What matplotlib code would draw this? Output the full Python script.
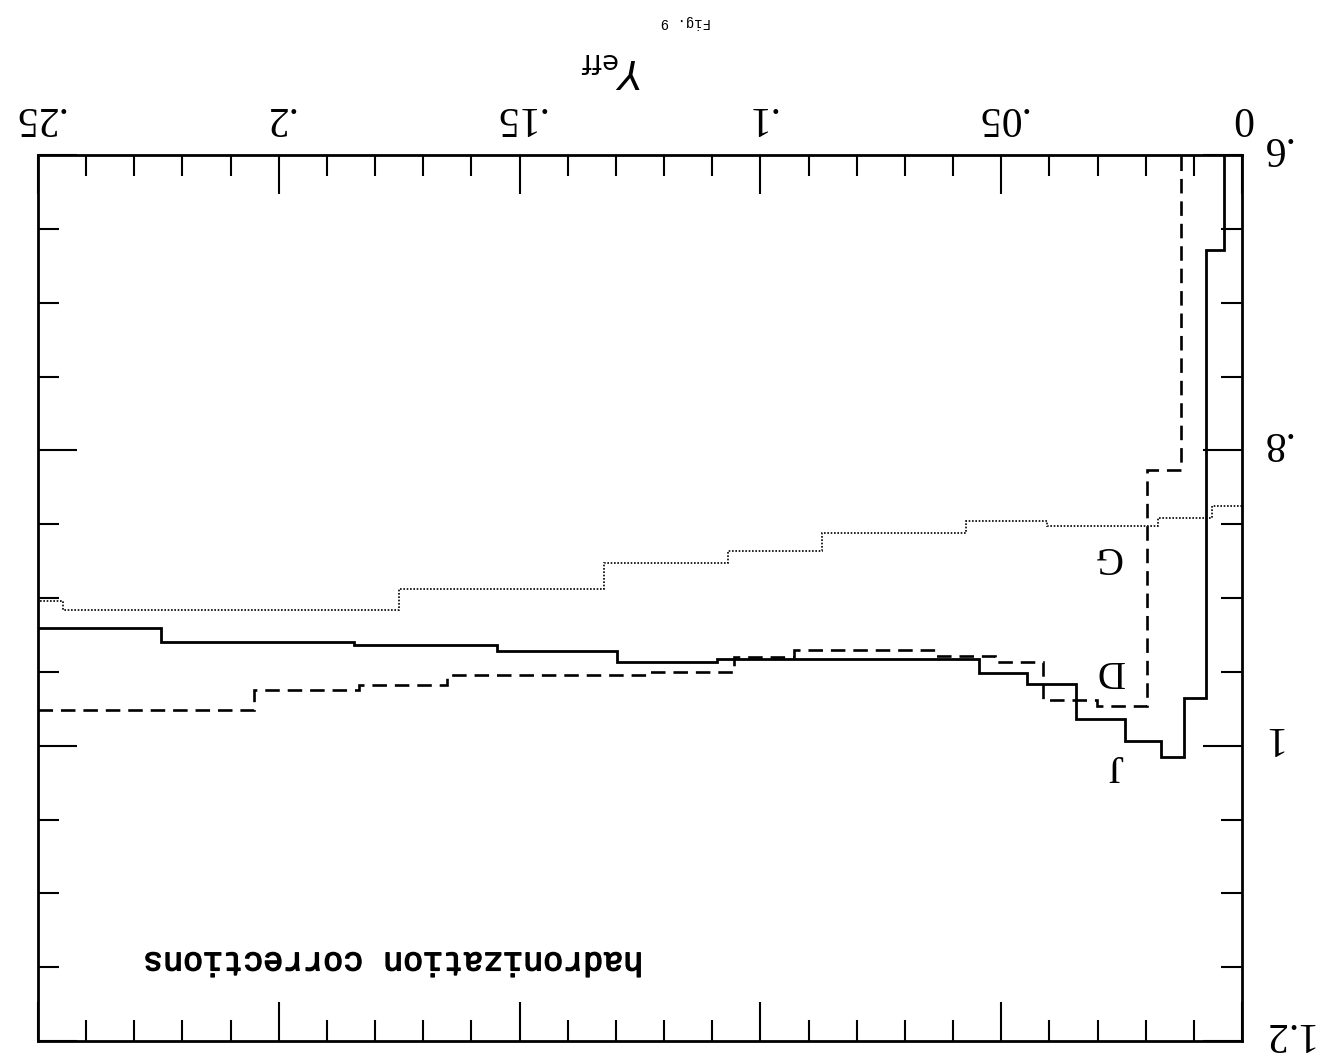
import matplotlib
matplotlib.use("Agg")
import matplotlib.pyplot as plt
import matplotlib.patheffects as pe
from matplotlib.transforms import ScaledTranslation
from matplotlib.ticker import MultipleLocator, FixedLocator, FuncFormatter

# bin edges (y_cut) and hadronization corrections for each algorithm
j_edges = [0, 0.0037, 0.0075, 0.012, 0.0168, 0.0243, 0.0344, 0.0446, 0.0546,
           0.109, 0.1297, 0.1546, 0.1843, 0.2245, 0.25]
j_vals = [0.45, 0.664, 0.968, 1.008, 0.997, 0.982, 0.958, 0.951, 0.941,
          0.943, 0.936, 0.932, 0.930, 0.920]

d_edges = [0, 0.0127, 0.0197, 0.0301, 0.0413, 0.0512, 0.0635, 0.093, 0.1055,
           0.1232, 0.165, 0.1834, 0.2052, 0.25]
d_vals = [0.45, 0.813, 0.973, 0.969, 0.943, 0.939, 0.935, 0.940, 0.950,
          0.952, 0.959, 0.962, 0.976]

g_edges = [0, 0.0062, 0.0174, 0.0405, 0.0573, 0.0873, 0.1068, 0.1324, 0.1751,
           0.2448, 0.25]
g_vals = [0.838, 0.846, 0.851, 0.848, 0.856, 0.868, 0.876, 0.894, 0.908, 0.902]

curve_labels = ["J", "D", "G"]
label_pos = [(0.0263, 1.013), (0.0274, 0.949), (0.028, 0.872)]

serif = "Liberation Serif"

fig = plt.figure(figsize=(13.29, 10.59), dpi=100)
ax = fig.add_axes([0.0286, 0.0170, 0.906, 0.8366])

ax.stairs(j_vals, j_edges, baseline=None, color="black", lw=2.0)
ax.stairs(d_vals, d_edges, baseline=None, color="black", lw=1.9,
          linestyle=(0, (5.5, 3)))
ax.stairs(g_vals, g_edges, baseline=None, color="black", lw=1.2,
          linestyle=(0, (1, 1)))

# the whole page is printed upside down
ax.set_xlim(0.25, 0)
ax.set_ylim(1.2, 0.6)

def short_num(v, pos):
    s = f"{v:.2f}".rstrip("0").rstrip(".")
    if s.startswith("0."):
        s = s[1:]
    return s

ax.xaxis.set_major_locator(MultipleLocator(0.05))
ax.xaxis.set_minor_locator(MultipleLocator(0.01))
ax.yaxis.set_major_locator(FixedLocator([0.6, 0.8, 1.0, 1.2]))
ax.yaxis.set_minor_locator(MultipleLocator(0.05))
ax.xaxis.set_major_formatter(FuncFormatter(short_num))
ax.yaxis.set_major_formatter(FuncFormatter(short_num))

ax.tick_params(which="both", direction="in", top=True, bottom=True,
               left=True, right=True, labeltop=True, labelbottom=False,
               labelright=True, labelleft=False, width=1.5, color="black")
ax.tick_params(which="major", length=28, pad=13, labelsize=30,
               labelrotation=180)
ax.tick_params(which="minor", length=15)
for lab in ax.get_xticklabels() + ax.get_yticklabels():
    lab.set_fontfamily(serif)
# upside-down digits sit low, nudge them up onto their ticks
lift = ScaledTranslation(0, 0.08, fig.dpi_scale_trans)
for lab in ax.get_yticklabels():
    lab.set_verticalalignment("center")
    lab.set_transform(lab.get_transform() + lift)

for sp in ax.spines.values():
    sp.set_linewidth(2.0)

ax.xaxis.set_label_position("top")
ax.set_xlabel(r"$Y_{\rm eff}$", fontsize=28, rotation=180, family=serif)
ax.xaxis.set_label_coords(0.477, 1.085)

for name, (x, y) in zip(curve_labels, label_pos):
    ax.text(x, y, name, rotation=180, ha="center", va="center",
            fontsize=28, family=serif)

ax.text(0.295, 0.09, "hadronization corrections", transform=ax.transAxes,
        rotation=180, ha="center", va="center", fontsize=24,
        family="Liberation Mono",
        path_effects=[pe.withStroke(linewidth=1.0, foreground="black")])

fig.text(0.516, 0.979, "Fig. 9", rotation=180, ha="center", va="center",
         fontsize=10, family="Liberation Mono")

fig.savefig("out.png", dpi=100)
